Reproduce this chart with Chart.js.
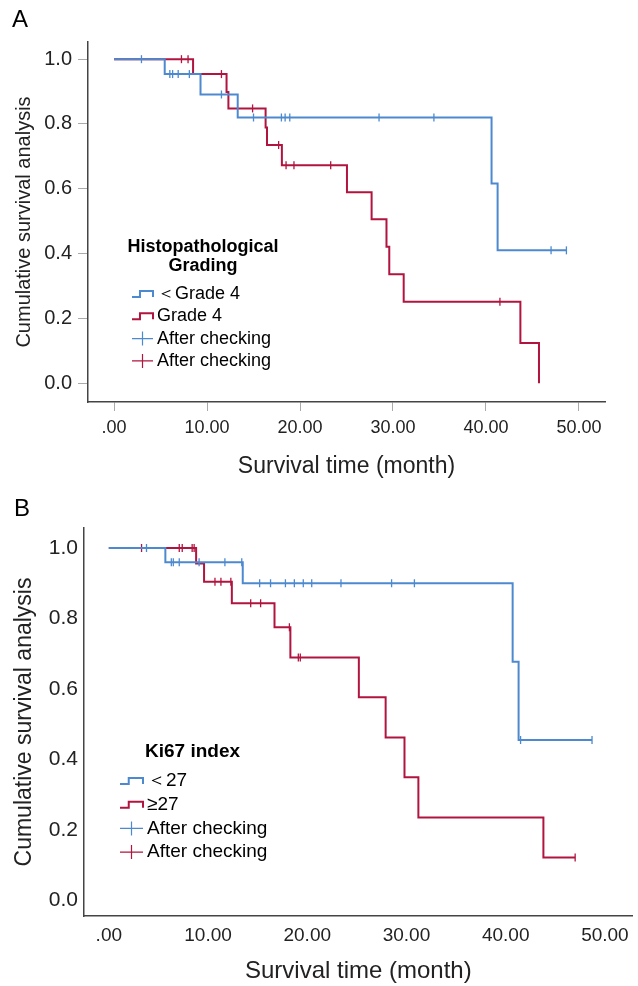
<!DOCTYPE html>
<html>
<head>
<meta charset="utf-8">
<script src="https://cdn.jsdelivr.net/npm/chart.js@4.4.0/dist/chart.umd.min.js"></script>
<style>
  html, body { margin: 0; padding: 0; background: #fff; }
  .panel { position: absolute; left: 0; width: 638px; }
  #wrapA { top: 0; height: 490px; }
  #wrapB { top: 490px; height: 496px; }
</style>
</head>
<body>
<div class="panel" id="wrapA"><canvas id="chartA" width="638" height="490"></canvas></div>
<div class="panel" id="wrapB"><canvas id="chartB" width="638" height="496"></canvas></div>
<script>
// axis ticks (shared by both panels)
const xTickVals = [0, 10, 20, 30, 40, 50];
const xTickLabels = ['.00', '10.00', '20.00', '30.00', '40.00', '50.00'];
const yTickVals = [0, 0.2, 0.4, 0.6, 0.8, 1.0];
const yTickLabels = ['0.0', '0.2', '0.4', '0.6', '0.8', '1.0'];
const xTitle = 'Survival time (month)';
const yTitle = 'Cumulative survival analysis';
const censorLabel = 'After checking';

// Panel A - histopathological grading
const aTitle = ['Histopathological', 'Grading'];
const aGroups = ['\uFF1CGrade 4', 'Grade 4'];
const aLowTimes = [0, 5.45, 9.3, 13.3, 40.6, 41.25];
const aLowSurv = [1.0, 0.954, 0.891, 0.82, 0.616, 0.41];
const aLowCensor = [2.95, 6.0, 6.3, 6.9, 8.1, 11.55, 15.0, 18.0, 18.4, 18.9, 28.5, 34.4, 47.0, 48.65];
const aHighTimes = [0, 8.5, 12.1, 12.3, 16.3, 16.45, 18.05, 25.05, 27.7, 29.3, 29.6, 31.15, 43.7, 45.7];
const aHighSurv = [1.0, 0.954, 0.899, 0.848, 0.789, 0.735, 0.673, 0.589, 0.506, 0.421, 0.336, 0.251, 0.124, 0];
const aHighCensor = [7.25, 7.96, 11.55, 14.9, 17.7, 18.5, 19.35, 23.3, 41.5];

// Panel B - Ki67 index
const bTitle = ['Ki67 index'];
const bGroups = ['\uFF1C27', '\u226527'];
const bLowTimes = [0, 5.7, 13.5, 40.7, 41.3];
const bLowSurv = [1.0, 0.96, 0.9, 0.677, 0.455];
const bLowCensor = [3.8, 6.3, 6.5, 7.1, 9.1, 11.7, 13.4, 15.2, 16.3, 17.8, 18.7, 19.6, 20.45, 23.4, 28.5, 30.8, 41.5, 48.7];
const bHighTimes = [0, 8.8, 9.6, 12.4, 16.7, 18.3, 25.2, 27.9, 29.8, 31.2, 43.8];
const bHighSurv = [1.0, 0.956, 0.904, 0.843, 0.775, 0.689, 0.576, 0.462, 0.349, 0.235, 0.121];
const bHighCensor = [3.3, 7.1, 7.4, 8.4, 8.6, 10.7, 11.3, 12.3, 14.3, 15.3, 18.2, 19.1, 19.3, 47.0];

const BLUE = '#4d89cf';
const RED = '#b0143f';
const FONT = "'Liberation Sans', Arial, sans-serif";

function survAt(times, surv, t) {
    let s = surv[0];
    for (let i = 0; i < times.length; i++) if (times[i] <= t) s = surv[i];
    return s;
}

function curveData(times, surv, censor) {
    const pts = times.map((t, i) => ({ x: t, y: surv[i] }));
    const end = Math.max(...censor);
    if (end > times[times.length - 1]) pts.push({ x: end, y: surv[surv.length - 1] });
    return pts;
}

function censorData(times, surv, censor) {
    return censor.map(t => ({ x: t, y: survAt(times, surv, t) }));
}

function groupSets(times, surv, censor, color) {
    return [
        { data: curveData(times, surv, censor), showLine: true, stepped: true,
          borderColor: color, borderWidth: 2, pointRadius: 0, fill: false },
        { data: censorData(times, surv, censor), showLine: false, pointStyle: 'line',
          rotation: 90, pointRadius: 4, borderColor: color, borderWidth: 1.3 }
    ];
}

// draws panel letter and the SPSS style legend
const kmDecor = {
    id: 'kmDecor',
    afterDraw(chart, args, o) {
        const ctx = chart.ctx;
        ctx.save();
        ctx.fillStyle = '#000';
        ctx.textBaseline = 'middle';
        ctx.textAlign = 'left';
        ctx.font = o.letterFont;
        ctx.fillText(o.letter, o.letterX, o.letterY);

        ctx.font = o.titleFont;
        ctx.textAlign = o.titleAlign;
        o.titleLines.forEach((t, i) => ctx.fillText(t, o.titleX, o.titleY + i * o.titleGap));

        ctx.font = o.itemFont;
        ctx.textAlign = 'left';
        o.items.forEach((it, i) => {
            const y = o.rowY + i * o.rowGap;
            const x0 = o.iconX, x1 = o.iconX + o.iconW;
            ctx.strokeStyle = it.color;
            ctx.beginPath();
            if (it.step) {
                const h = 6, xm = x0 + o.iconW * 0.38;
                ctx.lineWidth = 2;
                ctx.moveTo(x0, y + h / 2);
                ctx.lineTo(xm, y + h / 2);
                ctx.lineTo(xm, y - h / 2);
                ctx.lineTo(x1, y - h / 2);
                ctx.lineTo(x1, y + h / 2);
            } else {
                const xc = (x0 + x1) / 2;
                ctx.lineWidth = 1.2;
                ctx.moveTo(x0, y); ctx.lineTo(x1, y);
                ctx.moveTo(xc, y - 7); ctx.lineTo(xc, y + 7);
            }
            ctx.stroke();
            ctx.fillText(it.label, o.textX, y);
        });
        ctx.restore();
    }
};

function makeChart(id, p) {
    return new Chart(document.getElementById(id), {
        type: 'scatter',
        data: { datasets: [
            ...groupSets(p.lowT, p.lowS, p.lowC, BLUE),
            ...groupSets(p.highT, p.highS, p.highC, RED)
        ] },
        options: {
            responsive: false,
            animation: false,
            events: [],
            layout: { padding: { top: p.padTop, right: p.padRight, bottom: 0, left: 0 } },
            plugins: {
                legend: { display: false },
                tooltip: { enabled: false },
                kmDecor: p.decor
            },
            scales: {
                x: {
                    type: 'linear', min: p.xMin, max: p.xMax,
                    afterBuildTicks: s => { s.ticks = xTickVals.map(v => ({ value: v })); },
                    afterFit: s => { s.height = p.xHeight; },
                    ticks: { callback: (v, i) => xTickLabels[i], color: '#222', padding: p.xPad,
                             maxRotation: 0, autoSkip: false, font: { family: FONT, size: p.xTickSize } },
                    grid: p.xGrid,
                    border: { color: '#444', width: 1.5 },
                    title: { display: true, text: xTitle, color: '#222',
                             font: { family: FONT, size: p.xTitleSize }, padding: { top: 0, bottom: p.xTitlePad } }
                },
                y: {
                    type: 'linear', min: p.yMin, max: p.yMax,
                    afterBuildTicks: s => { s.ticks = yTickVals.map(v => ({ value: v })); },
                    afterFit: s => { s.width = p.yWidth; },
                    ticks: { callback: (v, i) => yTickLabels[i], color: '#222', padding: 6,
                             font: { family: FONT, size: p.yTickSize } },
                    grid: p.yGrid,
                    border: { color: '#444', width: 1.5 },
                    title: { display: true, text: yTitle, color: '#222',
                             font: { family: FONT, size: p.yTitleSize }, padding: { top: p.yTitlePad, bottom: 0 } }
                }
            }
        },
        plugins: [kmDecor]
    });
}

makeChart('chartA', {
    lowT: aLowTimes, lowS: aLowSurv, lowC: aLowCensor,
    highT: aHighTimes, highS: aHighSurv, highC: aHighCensor,
    padTop: 42, padRight: 33, xMin: -2.8, xMax: 52.8, yMin: -0.058, yMax: 1.053,
    xHeight: 88, yWidth: 88, xPad: 6, xTickSize: 18, yTickSize: 20,
    xTitleSize: 23, xTitlePad: 10, yTitleSize: 20, yTitlePad: 12,
    xGrid: { drawOnChartArea: false, drawTicks: true, tickLength: 9, color: '#aaa' },
    yGrid: { drawOnChartArea: false, drawTicks: true, tickLength: 10, color: '#aaa' },
    decor: {
        letter: 'A', letterX: 12, letterY: 20, letterFont: '24px ' + FONT,
        titleLines: aTitle, titleFont: 'bold 18px ' + FONT, titleAlign: 'center',
        titleX: 203, titleY: 247, titleGap: 19,
        itemFont: '18px ' + FONT, iconX: 132, iconW: 21, textX: 157, rowY: 294, rowGap: 22.3,
        items: [
            { label: aGroups[0], color: BLUE, step: true },
            { label: aGroups[1], color: RED, step: true },
            { label: censorLabel, color: BLUE, step: false },
            { label: censorLabel, color: RED, step: false }
        ]
    }
});

makeChart('chartB', {
    lowT: bLowTimes, lowS: bLowSurv, lowC: bLowCensor,
    highT: bHighTimes, highS: bHighSurv, highC: bHighCensor,
    padTop: 38, padRight: 1, xMin: -2.5, xMax: 52.8, yMin: -0.045, yMax: 1.057,
    xHeight: 70, yWidth: 84, xPad: 8, xTickSize: 19, yTickSize: 21,
    xTitleSize: 24, xTitlePad: 0, yTitleSize: 23, yTitlePad: 11,
    xGrid: { display: false, drawTicks: false },
    yGrid: { display: false, drawTicks: false },
    decor: {
        letter: 'B', letterX: 14, letterY: 19, letterFont: '24px ' + FONT,
        titleLines: bTitle, titleFont: 'bold 19px ' + FONT, titleAlign: 'left',
        titleX: 145, titleY: 262, titleGap: 20,
        itemFont: '19px ' + FONT, iconX: 120, iconW: 23, textX: 147, rowY: 291, rowGap: 23.7,
        items: [
            { label: bGroups[0], color: BLUE, step: true },
            { label: bGroups[1], color: RED, step: true },
            { label: censorLabel, color: BLUE, step: false },
            { label: censorLabel, color: RED, step: false }
        ]
    }
});
</script>
</body>
</html>
